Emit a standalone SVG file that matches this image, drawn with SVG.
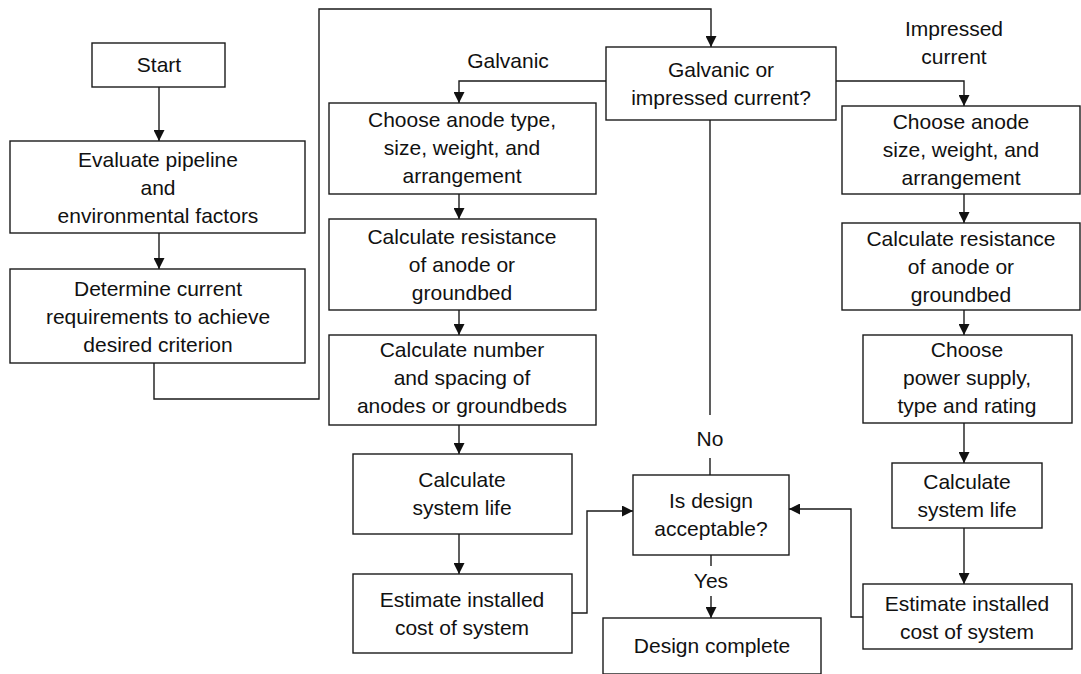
<svg xmlns="http://www.w3.org/2000/svg" width="1081" height="674" viewBox="0 0 1081 674">
  <style>
    .box { fill: #fff; stroke: #1a1a1a; stroke-width: 1.4; }
    .line { fill: none; stroke: #1a1a1a; stroke-width: 1.4; }
    text { font-family: "Liberation Sans", Arial, sans-serif; font-size: 21px; fill: #111; text-anchor: middle; }
  </style>
  <defs>
    <marker id="arrow" viewBox="0 0 11 11" refX="11" refY="5.5" markerWidth="11" markerHeight="11" markerUnits="userSpaceOnUse" orient="auto">
      <path d="M0,0 L11,5.5 L0,11 z" fill="#111"/>
    </marker>
  </defs>
  <rect width="1081" height="674" fill="#fff"/>

  <!-- connectors -->
  <g id="connectors">
    <path class="line" d="M159,87 V141" marker-end="url(#arrow)"/>
    <path class="line" d="M159,233 V269" marker-end="url(#arrow)"/>
    <path class="line" d="M154,363 V399 H319 V9 H711 V47" marker-end="url(#arrow)"/>
    <!-- galvanic branch -->
    <path class="line" d="M606,81 H459 V103" marker-end="url(#arrow)"/>
    <path class="line" d="M459,194 V219" marker-end="url(#arrow)"/>
    <path class="line" d="M459,310 V335" marker-end="url(#arrow)"/>
    <path class="line" d="M459,425 V454" marker-end="url(#arrow)"/>
    <path class="line" d="M459,534 V574" marker-end="url(#arrow)"/>
    <path class="line" d="M572,613 H587 V511 H633" marker-end="url(#arrow)"/>
    <!-- impressed current branch -->
    <path class="line" d="M836,81 H964 V106" marker-end="url(#arrow)"/>
    <path class="line" d="M964,194 V223" marker-end="url(#arrow)"/>
    <path class="line" d="M964,310 V335" marker-end="url(#arrow)"/>
    <path class="line" d="M964,423 V463" marker-end="url(#arrow)"/>
    <path class="line" d="M964,528 V584" marker-end="url(#arrow)"/>
    <path class="line" d="M863,617 H851 V509 H789" marker-end="url(#arrow)"/>
    <!-- decision outcomes -->
    <path class="line" d="M710,120 V415"/>
    <path class="line" d="M710,458 V475"/>
    <path class="line" d="M711,555 V566"/>
    <path class="line" d="M711,596 V618" marker-end="url(#arrow)"/>
    <text x="508" y="68">Galvanic</text>
    <text x="954" y="36">Impressed</text>
    <text x="954" y="64">current</text>
    <text x="710" y="446">No</text>
    <text x="711" y="588">Yes</text>
  </g>

  <g id="start">
    <rect class="box" x="92" y="43" width="133" height="44"/>
    <text x="159" y="72">Start</text>
  </g>
  <g id="evaluate">
    <rect class="box" x="10" y="141" width="295" height="92"/>
    <text x="158" y="167">Evaluate pipeline</text>
    <text x="158" y="195">and</text>
    <text x="158" y="223">environmental factors</text>
  </g>
  <g id="determine">
    <rect class="box" x="10" y="269" width="295" height="94"/>
    <text x="158" y="296">Determine current</text>
    <text x="158" y="324">requirements to achieve</text>
    <text x="158" y="352">desired criterion</text>
  </g>
  <g id="decision-type">
    <rect class="box" x="606" y="47" width="230" height="73"/>
    <text x="721" y="77">Galvanic or</text>
    <text x="721" y="105">impressed current?</text>
  </g>

  <g id="g-choose">
    <rect class="box" x="329" y="103" width="267" height="91"/>
    <text x="462" y="127">Choose anode type,</text>
    <text x="462" y="155">size, weight, and</text>
    <text x="462" y="183">arrangement</text>
  </g>
  <g id="g-resistance">
    <rect class="box" x="329" y="219" width="267" height="91"/>
    <text x="462" y="244">Calculate resistance</text>
    <text x="462" y="272">of anode or</text>
    <text x="462" y="300">groundbed</text>
  </g>
  <g id="g-number">
    <rect class="box" x="329" y="335" width="267" height="90"/>
    <text x="462" y="357">Calculate number</text>
    <text x="462" y="385">and spacing of</text>
    <text x="462" y="413">anodes or groundbeds</text>
  </g>
  <g id="g-life">
    <rect class="box" x="353" y="454" width="219" height="80"/>
    <text x="462" y="487">Calculate</text>
    <text x="462" y="515">system life</text>
  </g>
  <g id="g-cost">
    <rect class="box" x="353" y="574" width="219" height="79"/>
    <text x="462" y="607">Estimate installed</text>
    <text x="462" y="635">cost of system</text>
  </g>

  <g id="decision-acceptable">
    <rect class="box" x="633" y="475" width="156" height="80"/>
    <text x="711" y="508">Is design</text>
    <text x="711" y="536">acceptable?</text>
  </g>
  <g id="design-complete">
    <rect class="box" x="603" y="618" width="218" height="56"/>
    <text x="712" y="653">Design complete</text>
  </g>

  <g id="i-choose">
    <rect class="box" x="842" y="106" width="238" height="88"/>
    <text x="961" y="129">Choose anode</text>
    <text x="961" y="157">size, weight, and</text>
    <text x="961" y="185">arrangement</text>
  </g>
  <g id="i-resistance">
    <rect class="box" x="842" y="223" width="238" height="87"/>
    <text x="961" y="246">Calculate resistance</text>
    <text x="961" y="274">of anode or</text>
    <text x="961" y="302">groundbed</text>
  </g>
  <g id="i-power">
    <rect class="box" x="863" y="335" width="209" height="88"/>
    <text x="967" y="357">Choose</text>
    <text x="967" y="385">power supply,</text>
    <text x="967" y="413">type and rating</text>
  </g>
  <g id="i-life">
    <rect class="box" x="892" y="463" width="150" height="65"/>
    <text x="967" y="489">Calculate</text>
    <text x="967" y="517">system life</text>
  </g>
  <g id="i-cost">
    <rect class="box" x="863" y="584" width="209" height="65"/>
    <text x="967" y="611">Estimate installed</text>
    <text x="967" y="639">cost of system</text>
  </g>
</svg>
